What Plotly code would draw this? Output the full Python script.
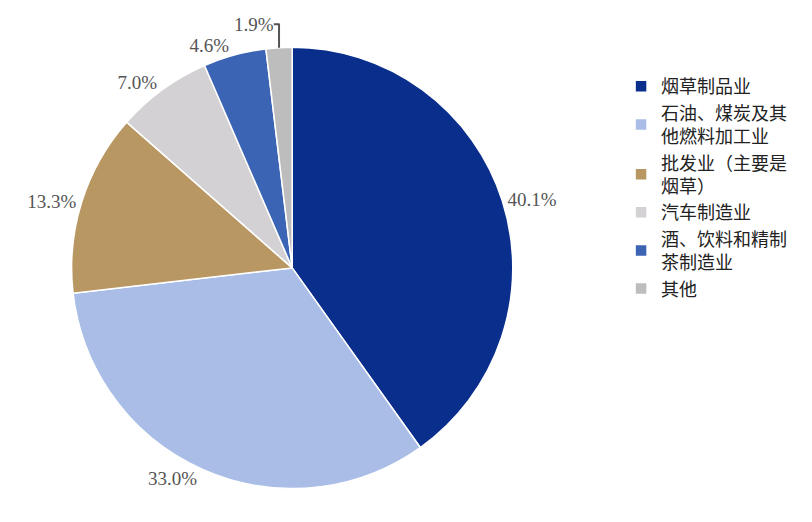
import plotly.graph_objects as go

labels = ["烟草制品业", "石油、煤炭及其<br>他燃料加工业", "批发业（主要是<br>烟草）", "汽车制造业",
          "酒、饮料和精制<br>茶制造业", "其他"]
values = [40.1, 33.0, 13.3, 7.0, 4.6, 1.9]
colors = ["#0A2E8C", "#A9BDE6", "#B89763", "#D3D1D3", "#3C64B4", "#BDBDBD"]

fig = go.Figure(go.Pie(
    labels=labels, values=values, sort=False, direction="clockwise", rotation=0,
    marker=dict(colors=colors, line=dict(color="white", width=1.5)),
    texttemplate="%{value:.1f}%", textposition="outside",
    textfont=dict(family="Liberation Serif", size=19, color="#555555"),
    domain=dict(x=[0.078, 0.622], y=[0.08, 0.93]),
))

fig.update_layout(
    width=812, height=522, margin=dict(l=0, r=0, t=0, b=0),
    paper_bgcolor="white", showlegend=True,
    legend=dict(x=0.755, y=0.89, yanchor="top", xanchor="left",
                font=dict(family="Noto Sans CJK SC", size=18, color="#222222"),
                itemwidth=30),
)

fig.write_html("out.html")
